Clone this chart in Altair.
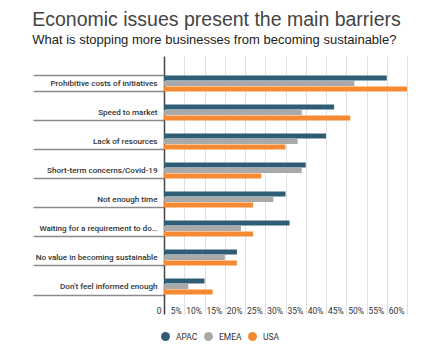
import altair as alt
import pandas as pd

categories = [
    "Prohibitive costs of initiatives",
    "Speed to market",
    "Lack of resources",
    "Short-term concerns/Covid-19",
    "Not enough time",
    "Waiting for a requirement to do…",
    "No value in becoming sustainable",
    "Don't feel informed enough",
]
regions = ["APAC", "EMEA", "USA"]
apac = [55, 42, 40, 35, 30, 31, 18, 10]
emea = [47, 34, 33, 34, 27, 19, 15, 6]
usa = [60, 46, 30, 24, 22, 22, 18, 12]
colors = ["#2f5d76", "#a9a9a9", "#f58a32"]
tick_values = list(range(0, 65, 5))

rows = []
for i, c in enumerate(categories):
    for r, vals in zip(regions, [apac, emea, usa]):
        rows.append({"Barrier": c, "Region": r, "Value": vals[i]})
df = pd.DataFrame(rows)

chart = alt.Chart(df).mark_bar().encode(
    x=alt.X("Value:Q",
            scale=alt.Scale(domain=[0, 60], nice=False),
            axis=alt.Axis(values=tick_values, title=None, orient="bottom",
                          grid=True, gridColor="#e0e0e0", gridWidth=1,
                          ticks=False, domain=False,
                          labelExpr="datum.value == 0 ? '0' : datum.value + '%'",
                          labelAlign="right", labelOffset=-3, labelBaseline="middle",
                          labelPadding=-4, labelFont="Roboto", labelFontSize=8.5,
                          labelColor="#333333", labelFlush=False)),
    y=alt.Y("Barrier:N", sort=categories,
            scale=alt.Scale(paddingInner=0.45, paddingOuter=0.672),
            axis=alt.Axis(title=None, tickBand="extent", tickSize=131,
                          tickColor="#8a8a8a", tickWidth=1.5,
                          domainColor="#444444", domainWidth=1.5,
                          labelPadding=-124, labelFont="Roboto", labelFontSize=8.1,
                          labelFontWeight=500, labelColor="#333333", labelLimit=200)),
    yOffset=alt.YOffset("Region:N", sort=regions,
                        scale=alt.Scale(paddingInner=0.1, paddingOuter=0)),
    color=alt.Color("Region:N", sort=regions,
                    scale=alt.Scale(domain=regions, range=colors),
                    legend=alt.Legend(title=None, orient="none", direction="horizontal",
                                      legendX=-3, legendY=276, symbolType="circle",
                                      symbolSize=80, symbolStrokeWidth=0,
                                      labelFont="Roboto", labelFontSize=8.5,
                                      labelColor="#333333", labelOffset=6,
                                      columnPadding=6, padding=0)),
).properties(
    width=243,
    height=258,
    title=alt.TitleParams(
        "Economic issues present the main barriers",
        subtitle="What is stopping more businesses from becoming sustainable?",
        anchor="start", frame="bounds", font="Liberation Sans", fontSize=19.5,
        fontWeight="normal", color="#444444", subtitleFont="Liberation Sans",
        subtitleFontSize=13, subtitleColor="#222222", subtitlePadding=4, offset=4,
    ),
    padding={"left": 24, "top": 1, "right": 5, "bottom": 5},
).configure_view(stroke=None)

chart.save("out.html", embed_options={"renderer": "svg", "actions": False})
